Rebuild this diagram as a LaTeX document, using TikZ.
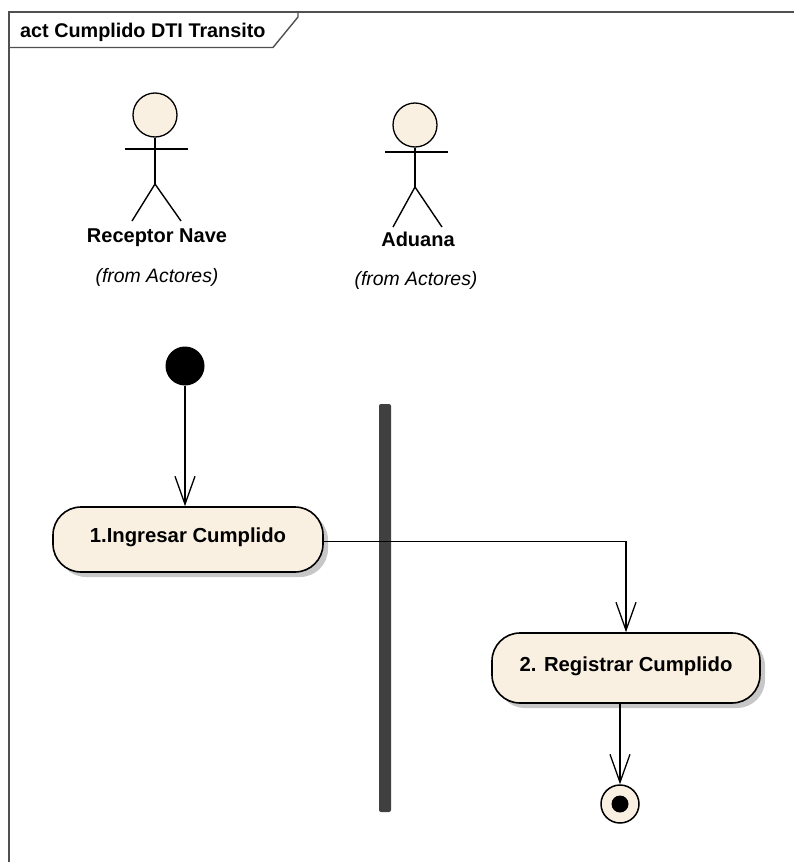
\documentclass[tikz,border=0pt]{standalone}
\usepackage{fontspec}
\setmainfont{Liberation Sans}
\usetikzlibrary{arrows.meta,shadows}
\definecolor{cream}{RGB}{250,240,226}
\definecolor{barcol}{RGB}{64,64,64}
\definecolor{framecol}{RGB}{80,80,80}
\tikzset{
  actbox/.style={draw=black, line width=1.6pt, fill=cream, rounded corners=28pt,
     minimum width=270pt, minimum height=65pt, inner sep=0pt,
     text height=14pt, text depth=8pt, font=\fontsize{20.3}{24}\selectfont\bfseries,
     general shadow={fill=black!22, shadow xshift=5pt, shadow yshift=-5pt}},
  headnode/.style={circle, draw=black, line width=1.3pt, fill=cream, minimum size=44pt, inner sep=0pt},
  limb/.style={draw=black, line width=1.4pt},
  actorname/.style={anchor=base, inner sep=0pt, font=\fontsize{20}{24}\selectfont\bfseries},
  fromlbl/.style={anchor=base, inner sep=0pt, font=\fontsize{19.4}{23}\selectfont\itshape},
  initnode/.style={circle, fill=black, minimum size=39pt, inner sep=0pt},
  finalnode/.style={circle, draw=black, line width=1.5pt, fill=cream, minimum size=38pt, inner sep=0pt},
  syncbar/.style={rectangle, fill=barcol, rounded corners=2pt, minimum width=12pt, minimum height=408pt, inner sep=0pt},
  flow/.style={draw=black, line width=1.3pt, -{Straight Barb[length=28pt,width=20pt,line width=1.3pt]}},
  framebox/.style={draw=framecol, line width=1.4pt}
}
\begin{document}
\begin{tikzpicture}[x=1pt,y=-1pt]
\useasboundingbox (0,0) rectangle (794,862);
% frame
\draw[framebox] (9,862) -- (9,12) -- (794,12);
\draw[framebox] (9,47.5) -- (273,47.5) -- (298,17) -- (298,12);
\node[anchor=base west, inner sep=0pt, font=\fontsize{19.8}{24}\selectfont\bfseries] (title) at (20,37) {act Cumplido DTI Transito};

% actor Receptor Nave
\node[headnode] (rnhead) at (155,115) {};
\coordinate (rnhip) at (155,184);
\coordinate (rnarml) at (125,149);
\coordinate (rnarmr) at (188,149);
\coordinate (rnlegl) at (132,221);
\coordinate (rnlegr) at (181,221);
\draw[limb] (rnhead.south) -- (rnhip);
\draw[limb] (rnarml) -- (rnarmr);
\draw[limb] (rnlegl) -- (rnhip) -- (rnlegr);
\node[actorname] (rnname) at (157,242) {Receptor Nave};
\node[fromlbl] (rnfrom) at (157,282) {(from Actores)};

% actor Aduana
\node[headnode] (adhead) at (415,125) {};
\coordinate (adhip) at (415,187);
\coordinate (adarml) at (385,152);
\coordinate (adarmr) at (448,152);
\coordinate (adlegl) at (393,227);
\coordinate (adlegr) at (442,227);
\draw[limb] (adhead.south) -- (adhip);
\draw[limb] (adarml) -- (adarmr);
\draw[limb] (adlegl) -- (adhip) -- (adlegr);
\node[actorname] (adname) at (418,246) {Aduana};
\node[fromlbl] (adfrom) at (416,285) {(from Actores)};

% activity flow
\node[initnode] (init) at (185,366) {};
\node[actbox] (act1) at (188,539.5) {1.Ingresar Cumplido};
\node[syncbar] (bar) at (385,608) {};
\node[actbox, minimum width=268pt, minimum height=70pt] (act2) at (626,668) {2. Registrar Cumplido};
\node[finalnode] (final) at (620,804) {};
\fill[black] (final.center) circle (8.5pt);

\draw[flow] (init) -- (init |- act1.north);
\draw[flow] ([yshift=-2pt]act1.east) -| (act2.north);
\draw[flow] (act2.south -| final) -- (final.north);
\end{tikzpicture}
\end{document}
